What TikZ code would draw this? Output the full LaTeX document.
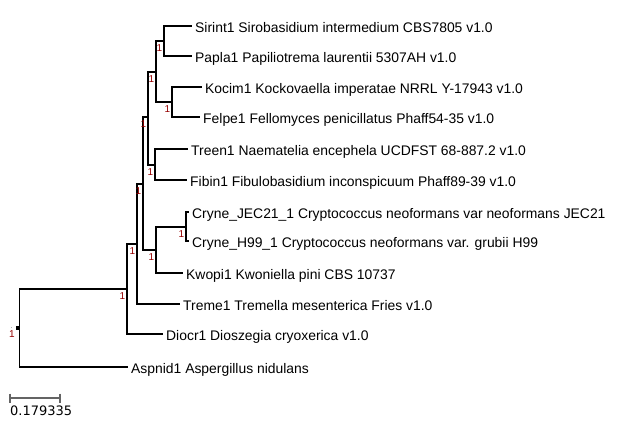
\documentclass[tikz,border=0pt]{standalone}
\usepackage{fontspec}
\setmainfont{Liberation Sans}
\newfontfamily\dejavu{DejaVu Sans}
\definecolor{supred}{RGB}{150,0,0}
\definecolor{scalegray}{RGB}{100,100,100}
\begin{document}
\begin{tikzpicture}[x=1pt,y=-1pt,
  br/.style={line width=1.5pt, black},
  tip/.style={anchor=base west, inner sep=0pt, font=\fontsize{13.9}{16}\selectfont},
  sup/.style={anchor=north east, inner sep=0pt, text=supred, font=\fontsize{10}{11}\selectfont}]
\useasboundingbox (0,0) rectangle (624,442);
\fill[white] (0,0) rectangle (624,442);
% internal nodes
\coordinate (root) at (19.5,328);
\coordinate (A) at (127,289);
\coordinate (B) at (137,244);
\coordinate (D) at (143,184);
\coordinate (H) at (148,117);
\coordinate (F) at (156,72);
\coordinate (E) at (164,41);
\coordinate (G) at (172,102);
\coordinate (I) at (155,165);
\coordinate (C) at (156,250);
\coordinate (K) at (186,227);
% tips
\coordinate (tSir) at (192,26);
\coordinate (tPap) at (192,56);
\coordinate (tKoc) at (202,87);
\coordinate (tFel) at (200,117);
\coordinate (tTre) at (188,149);
\coordinate (tFib) at (187,180);
\coordinate (tJEC) at (189,212);
\coordinate (tH99) at (189,241);
\coordinate (tKwo) at (183,273);
\coordinate (tTrm) at (180,304);
\coordinate (tDio) at (163,334);
\coordinate (tAsp) at (128,367);
% branches
\draw[br] (root) |- (A);
\draw[br] (root) |- (tAsp);
\draw[br] (A) |- (B);
\draw[br] (A) |- (tDio);
\draw[br] (B) |- (D);
\draw[br] (B) |- (tTrm);
\draw[br] (D) |- (H);
\draw[br] (D) |- (C);
\draw[br] (H) |- (F);
\draw[br] (H) |- (I);
\draw[br] (F) |- (E);
\draw[br] (F) |- (G);
\draw[br] (E) |- (tSir);
\draw[br] (E) |- (tPap);
\draw[br] (G) |- (tKoc);
\draw[br] (G) |- (tFel);
\draw[br] (I) |- (tTre);
\draw[br] (I) |- (tFib);
\draw[br] (C) |- (K);
\draw[br] (C) |- (tKwo);
\draw[br] (K) |- (tJEC);
\draw[br] (K) |- (tH99);
% tip labels
\node[tip] (lSir) at ([xshift=3pt,yshift=-6pt]tSir) {Sirint1 Sirobasidium intermedium CBS7805 v1.0};
\node[tip] (lPap) at ([xshift=3pt,yshift=-6pt]tPap) {Papla1 Papiliotrema laurentii 5307AH v1.0};
\node[tip] (lKoc) at ([xshift=3pt,yshift=-6pt]tKoc) {Kocim1 Kockovaella imperatae NRRL Y-17943 v1.0};
\node[tip] (lFel) at ([xshift=3pt,yshift=-6pt]tFel) {Felpe1 Fellomyces penicillatus Phaff54-35 v1.0};
\node[tip] (lTre) at ([xshift=3pt,yshift=-6pt]tTre) {Treen1 Naematelia encephela UCDFST 68-887.2 v1.0};
\node[tip] (lFib) at ([xshift=3pt,yshift=-6pt]tFib) {Fibin1 Fibulobasidium inconspicuum Phaff89-39 v1.0};
\node[tip] (lJEC) at ([xshift=3pt,yshift=-6pt]tJEC) {Cryne\_JEC21\_1 Cryptococcus neoformans var neoformans JEC21};
\node[tip] (lH99) at ([xshift=3pt,yshift=-6pt]tH99) {Cryne\_H99\_1 Cryptococcus neoformans var. grubii H99};
\node[tip] (lKwo) at ([xshift=3pt,yshift=-6pt]tKwo) {Kwopi1 Kwoniella pini CBS 10737};
\node[tip] (lTrm) at ([xshift=3pt,yshift=-6pt]tTrm) {Treme1 Tremella mesenterica Fries v1.0};
\node[tip] (lDio) at ([xshift=3pt,yshift=-6pt]tDio) {Diocr1 Dioszegia cryoxerica v1.0};
\node[tip] (lAsp) at ([xshift=3pt,yshift=-6pt]tAsp) {Aspnid1 Aspergillus nidulans};
% support values
\foreach \n in {A,B,D,H,F,E,G,I,C,K}
  \node[sup] (s\n) at ([xshift=-1.5pt,yshift=-3.5pt]\n) {1};
\node[sup] (sroot) at (15,330.5) {1};
% root marks
\fill[black] (15.5,326) rectangle (18.5,329.5);
\fill[gray!60] (10.5,326.5) rectangle (12,328);
% scale bar
\coordinate (sb1) at (10,398);
\coordinate (sb2) at (60,398);
\draw[scalegray, line width=1.5pt] (sb1) -- (sb2);
\draw[scalegray, line width=1.2pt] ([yshift=4.5pt]sb1) -- ([yshift=-4.5pt]sb1);
\draw[scalegray, line width=1.2pt] ([yshift=4.5pt]sb2) -- ([yshift=-4.5pt]sb2);
\node[anchor=base west, inner sep=0pt, font=\dejavu\fontsize{13}{15}\selectfont] (sbl) at (10,415) {0.179335};
\end{tikzpicture}
\end{document}
